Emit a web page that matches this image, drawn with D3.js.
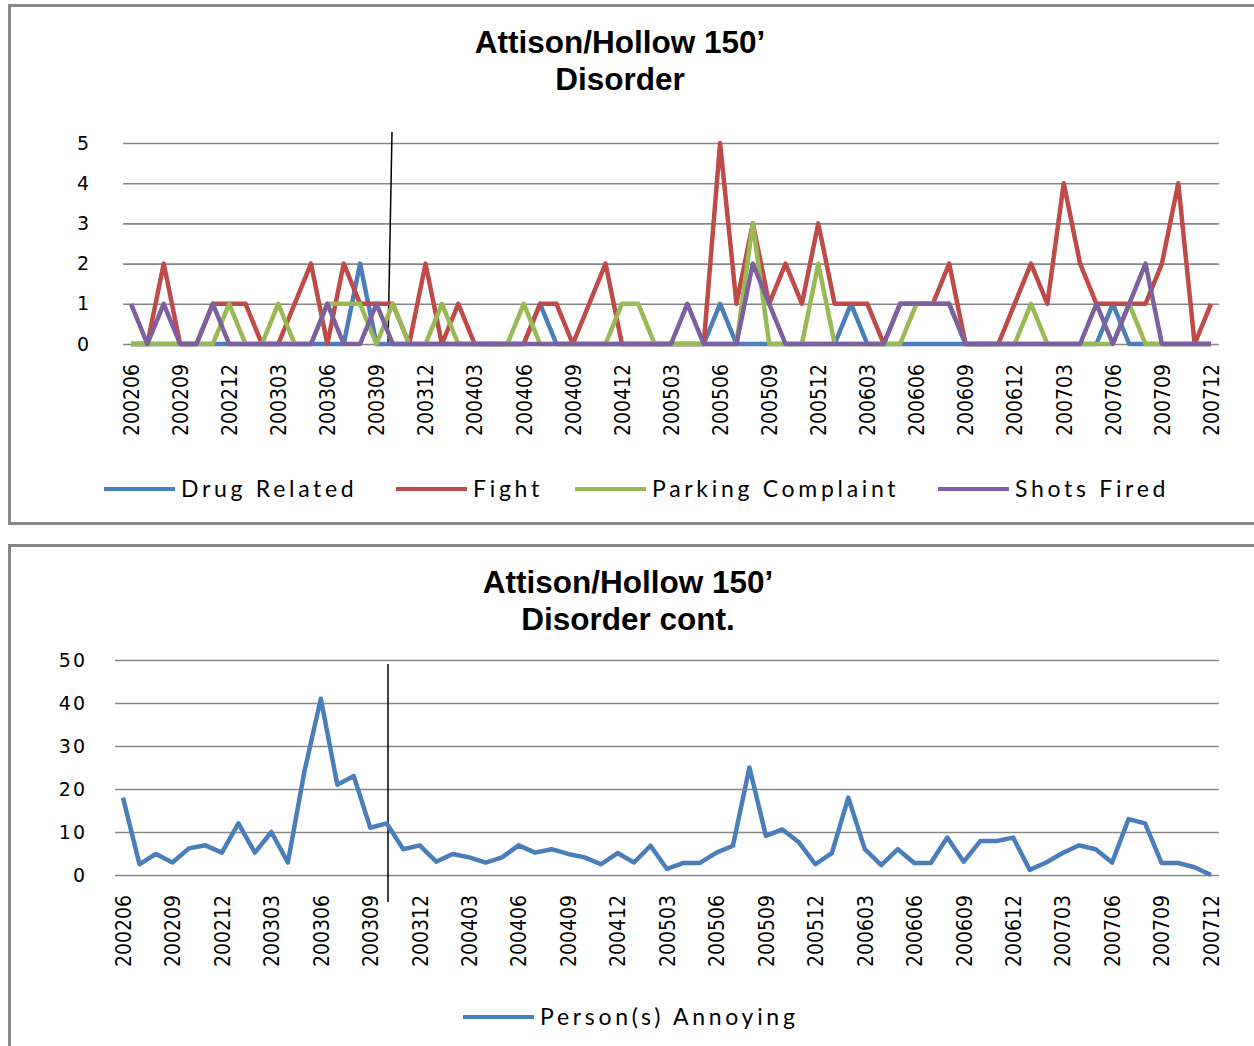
<!DOCTYPE html>
<html>
  <head>
    <meta charset="utf-8">
    <title>Attison/Hollow 150' Disorder</title>
    <script src="https://cdn.jsdelivr.net/npm/d3@7/dist/d3.min.js"></script>
    <style>
      body { margin: 0; background: #fff; }
      .title { font-family: "Liberation Sans", Arial, sans-serif; font-weight: bold; font-size: 31.5px; }
      .tick text { font-family: "Liberation Sans Narrow", "DejaVu Sans Condensed", sans-serif; font-size: 21px; fill: #000; }
      .legend text { font-family: Lato, "Open Sans", sans-serif; font-size: 23px; letter-spacing: 3.7px; }
    </style>
  </head>
  <body>
    <svg id="chart" width="1254" height="1046"></svg>
    <script>
      // months 200206 .. 200712
      var months = [];
      for (var y = 2002; y <= 2007; y++) {
        for (var m = 1; m <= 12; m++) {
          if (y == 2002 && m < 6) continue;
          months.push(String(y) + (m < 10 ? "0" + m : m));
        }
      }
      var tickLabels = months.filter(function(d, i) { return i % 3 == 0; });

      var drugRelated = [0,0,0,0,0,0,0,0,0,0,0,0,0,0,2,0,0,0,0,0,0,0,0,0,0,1,0,0,0,0,0,0,0,0,0,0,1,0,0,0,0,0,0,0,1,0,0,0,0,0,0,0,0,0,0,0,0,0,0,0,1,0,0,0,0,0,0];
      var fight = [0,0,2,0,0,1,1,1,0,0,1,2,0,2,1,1,1,0,2,0,1,0,0,0,0,1,1,0,1,2,0,0,0,0,0,0,5,1,3,1,2,1,3,1,1,1,0,1,1,1,2,0,0,0,1,2,1,4,2,1,1,1,1,2,4,0,1];
      var parking = [0,0,0,0,0,0,1,0,0,1,0,0,1,1,1,0,1,0,0,1,0,0,0,0,1,0,0,0,0,0,1,1,0,0,0,0,0,0,3,0,0,0,2,0,0,0,0,0,1,1,1,0,0,0,0,1,0,0,0,0,0,1,0,0,0,0,0];
      var shotsFired = [1,0,1,0,0,1,0,0,0,0,0,0,1,0,0,1,0,0,0,0,0,0,0,0,0,0,0,0,0,0,0,0,0,0,1,0,0,0,2,1,0,0,0,0,0,0,0,1,1,1,1,0,0,0,0,0,0,0,0,1,0,1,2,0,0,0,0];
      var personsAnnoying = [18,2.5,4.9,2.9,6.2,6.9,5.2,12,5.2,10,2.9,24,41,21,23,11,12,6,6.9,3.1,4.9,4.1,2.9,4.1,6.9,5.2,6,4.9,4.1,2.5,5.1,2.9,6.8,1.4,2.8,2.8,5.2,6.8,25,9.1,10.6,7.6,2.5,5.1,18,6,2.3,6,2.8,2.8,8.7,3.1,7.9,7.9,8.7,1.2,2.9,5.1,6.9,6,2.9,13,12,2.8,2.8,1.8,0];

      var topSeries = [
        {name: "Drug Related", values: drugRelated, color: "#4a7ebb"},
        {name: "Fight", values: fight, color: "#be4b48"},
        {name: "Parking Complaint", values: parking, color: "#98b954"},
        {name: "Shots Fired", values: shotsFired, color: "#7d60a0"}
      ];
      var bottomSeries = [
        {name: "Person(s) Annoying", values: personsAnnoying, color: "#4a7ebb"}
      ];

      var svg = d3.select("#chart");

      // panel frames
      svg.append("rect").attr("x", 9.5).attr("y", 5.5).attr("width", 1260).attr("height", 518)
        .style("fill", "none").style("stroke", "#888").style("stroke-width", 3);
      svg.append("rect").attr("x", 9.5).attr("y", 545.5).attr("width", 1260).attr("height", 520)
        .style("fill", "none").style("stroke", "#888").style("stroke-width", 3);

      function drawPanel(opt) {
        var g = svg.append("g");
        var x = d3.scalePoint().domain(months).range([opt.x0, opt.x1]);
        var yS = d3.scaleLinear().domain([0, opt.max]).range([opt.y0, opt.y1]);

        g.selectAll("text.title").data(opt.title).enter().append("text")
          .attr("class", "title").attr("x", opt.titleX).attr("y", function(d, i) { return opt.titleY + i * 37; })
          .attr("text-anchor", "middle").text(function(d) { return d; });

        // grid
        var grid = g.append("g").attr("transform", "translate(" + (opt.x0 - 8) + ",0)")
          .call(d3.axisLeft(yS).tickValues(opt.yTicks).tickFormat(d3.format("d"))
            .tickSize(-(opt.x1 - opt.x0 + 16)).tickPadding(opt.yPad));
        grid.select(".domain").remove();
        grid.selectAll(".tick line").style("stroke", "#868686").style("stroke-width", 1.6);
        grid.selectAll(".tick text").style("font-family", "'DejaVu Sans', sans-serif").style("font-size", "19px")
          .style("letter-spacing", "2px");

        // x axis labels
        var xa = g.append("g").attr("transform", "translate(0," + opt.y0 + ")")
          .call(d3.axisBottom(x).tickValues(tickLabels).tickSize(0).tickPadding(0));
        xa.select(".domain").remove();
        xa.selectAll(".tick text").attr("transform", "rotate(-90)")
          .attr("x", -20).attr("y", 0).attr("dy", "0.35em").attr("text-anchor", "end");

        // intervention marker
        g.append("line").attr("x1", opt.mark[0]).attr("y1", opt.mark[1]).attr("x2", opt.mark[2]).attr("y2", opt.mark[3])
          .style("stroke", "#000").style("stroke-width", 1.5);

        var line = d3.line().x(function(d, i) { return x(months[i]); }).y(function(d) { return yS(d); });
        g.selectAll("path.series").data(opt.series).enter().append("path")
          .attr("class", "series").attr("d", function(s) { return line(s.values); })
          .style("fill", "none").style("stroke", function(s) { return s.color; })
          .style("stroke-width", 4.5).style("stroke-linejoin", "round");

        var lg = g.selectAll("g.legend").data(opt.series).enter().append("g").attr("class", "legend")
          .attr("transform", function(d, i) { return "translate(" + opt.legendX[i] + "," + opt.legendY + ")"; });
        lg.append("line").attr("x1", 0).attr("x2", 71).attr("y1", 0).attr("y2", 0)
          .style("stroke", function(d) { return d.color; }).style("stroke-width", 4);
        lg.append("text").attr("x", 77).attr("dy", "0.35em").text(function(d) { return d.name; });
      }

      drawPanel({
        title: ["Attison/Hollow 150\u2019", "Disorder"], titleX: 620, titleY: 53,
        x0: 131, x1: 1211, y0: 344, y1: 143, max: 5, yTicks: [0, 1, 2, 3, 4, 5], yPad: 32,
        mark: [392, 132, 388, 344],
        series: topSeries, legendX: [104, 396, 575, 938], legendY: 489
      });
      drawPanel({
        title: ["Attison/Hollow 150\u2019", "Disorder cont."], titleX: 628, titleY: 593,
        x0: 123, x1: 1211, y0: 875, y1: 660, max: 50, yTicks: [0, 10, 20, 30, 40, 50], yPad: 28,
        mark: [388, 664, 388, 902],
        series: bottomSeries, legendX: [463], legendY: 1017
      });
    </script>
  </body>
</html>
